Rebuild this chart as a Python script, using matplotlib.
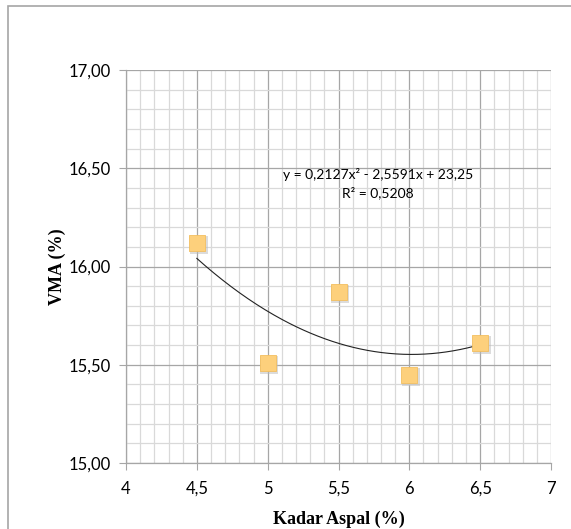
import numpy as np
import matplotlib
matplotlib.use("Agg")
import matplotlib.pyplot as plt
from matplotlib.ticker import MultipleLocator, FuncFormatter
from matplotlib.patches import Rectangle

# data
kadar_aspal = [4.5, 5.0, 5.5, 6.0, 6.5]
vma = [16.12, 15.51, 15.87, 15.45, 15.61]
# trendline coefficients shown on the chart
coef = [0.2127, -2.5591, 23.25]
eq_text = "y = 0,2127x² - 2,5591x + 23,25"
r2_text = "R² = 0,5208"

fig = plt.figure(figsize=(5.71, 5.29), dpi=100)
ax = fig.add_axes([126 / 571, 66 / 529, 425 / 571, 393 / 529])

# chart border
fig.patches.append(Rectangle((8 / 571, -0.1), 1.2, (529 - 6) / 529 + 0.1,
                             transform=fig.transFigure, fill=False,
                             edgecolor="#a6a6a6", linewidth=1.2))

ax.set_xlim(4, 7)
ax.set_ylim(15, 17)
ax.xaxis.set_major_locator(MultipleLocator(0.5))
ax.xaxis.set_minor_locator(MultipleLocator(0.1))
ax.yaxis.set_major_locator(MultipleLocator(0.5))
ax.yaxis.set_minor_locator(MultipleLocator(0.1))
ax.xaxis.set_major_formatter(FuncFormatter(lambda v, p: ("%g" % v).replace(".", ",")))
ax.yaxis.set_major_formatter(FuncFormatter(lambda v, p: ("%.2f" % v).replace(".", ",")))

ax.grid(which="major", color="#a6a6a6", linewidth=0.9)
ax.grid(which="minor", color="#d9d9d9", linewidth=0.9)
ax.set_axisbelow(True)
for s in ["top", "right"]:
    ax.spines[s].set_visible(False)
for s in ["left", "bottom"]:
    ax.spines[s].set_color("#a6a6a6")
    ax.spines[s].set_linewidth(0.9)
ax.tick_params(which="major", length=5, color="#a6a6a6", labelsize=12, pad=6)
ax.tick_params(axis="x", pad=8)
ax.tick_params(which="minor", length=0)
for lab in ax.get_xticklabels() + ax.get_yticklabels():
    lab.set_fontfamily("Lato")

# trendline
xs = np.linspace(min(kadar_aspal), max(kadar_aspal), 200)
ax.plot(xs, np.polyval(coef, xs), color="#222222", linewidth=0.8, zorder=3)

# markers with a soft shadow
ax.scatter(np.array(kadar_aspal) + 0.012, np.array(vma) - 0.012, marker="s", s=160,
           color="#bbbbbb", alpha=0.5, linewidths=0, zorder=3)
ax.scatter(kadar_aspal, vma, marker="s", s=145, color="#fdd07c",
           edgecolors="#f3bf60", linewidths=0.6, zorder=4)

ax.text(5.78, 16.468, eq_text, fontsize=10, family="Lato", ha="center", va="center")
ax.text(5.775, 16.376, r2_text, fontsize=10, family="Lato", ha="center", va="center")

ax.set_xlabel("Kadar Aspal (%)", family="Liberation Serif", fontweight="bold",
              fontsize=13, labelpad=10)
ax.set_ylabel("VMA (%)", family="Liberation Serif", fontweight="bold",
              fontsize=13, labelpad=2)

fig.savefig("out.png", dpi=100)
